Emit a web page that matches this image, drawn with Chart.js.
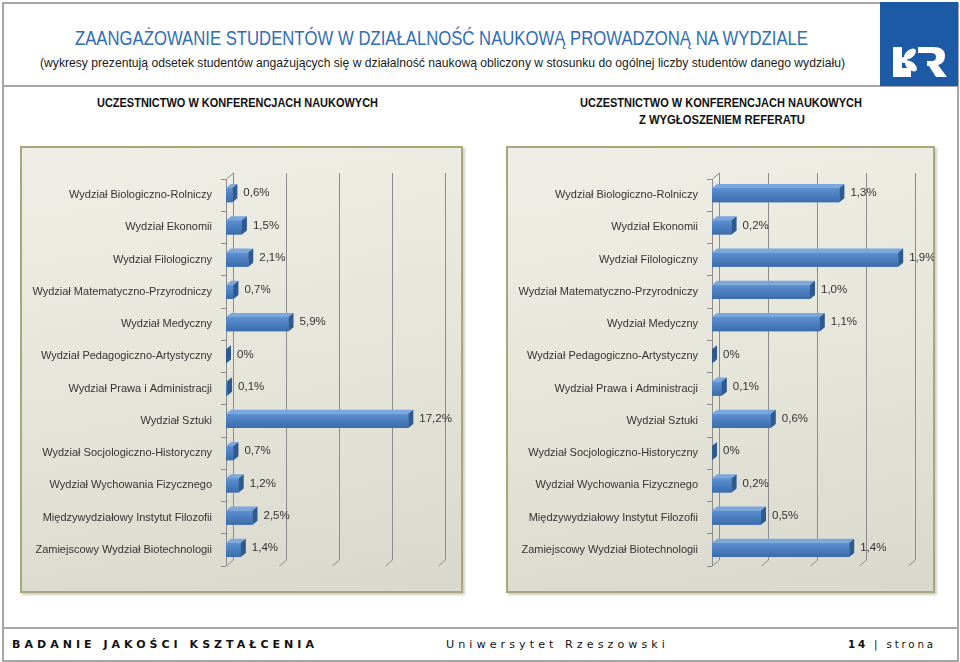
<!DOCTYPE html>
<html><head><meta charset="utf-8">
<script src="https://cdn.jsdelivr.net/npm/chart.js@4"></script>
<style>
html,body{margin:0;padding:0;}
body{width:960px;height:662px;position:relative;background:#fff;overflow:hidden;font-family:'Liberation Sans',Arial,sans-serif;}
.abs{position:absolute;}
.fit{position:absolute;white-space:nowrap;transform-origin:left center;display:inline-block;}
.panel{position:absolute;border:2px solid #a9a57c;box-sizing:border-box;
  background:linear-gradient(170deg,#f0efe7 0%,#e6e5da 50%,#d9d8cc 100%);
  box-shadow:2px 2px 2px rgba(120,120,100,0.35);}
.chartbox{position:absolute;}
</style></head><body>

<div class="abs" style="left:2px;top:2px;width:953px;height:656px;border:2px solid #a6a6a6;"></div>
<div class="abs" style="left:2px;top:85px;width:957px;height:2px;background:#a6a6a6;"></div>
<div class="abs" style="left:2px;top:627px;width:957px;height:2px;background:#a6a6a6;"></div>

<!-- logo -->
<svg class="abs" style="left:880px;top:2px" width="78" height="84" viewBox="0 0 78 84">
  <rect x="0" y="0" width="78" height="84" fill="#1d5aa6"/>
  <path d="M13 45 h9 v21 h9 v9 h-18 z" fill="#fff"/>
  <ellipse cx="30" cy="52" rx="7" ry="4" transform="rotate(-40 30 52)" fill="#fff"/>
  <ellipse cx="31" cy="64" rx="7" ry="4" transform="rotate(40 31 64)" fill="#fff"/>
  <ellipse cx="24" cy="58" rx="3" ry="3" fill="#fff"/>
  <path d="M38 45 h15 q12 0 12 9 q0 7 -7 9 l9 12 h-11 l-7 -11 h-2 v-5 h5 q4 0 4 -4 q0 -4 -5 -4 h-13 z" fill="#fff"/>
</svg>

<span class="fit" data-w="733" style="left:75px;top:27px;font-size:21px;line-height:22px;color:#2f6db5;">ZAANGAŻOWANIE STUDENTÓW W DZIAŁALNOŚĆ NAUKOWĄ PROWADZONĄ NA WYDZIALE</span>
<span class="fit" data-w="805" style="left:40px;top:55px;font-size:13.5px;line-height:16px;color:#1a1a1a;">(wykresy prezentują odsetek studentów angażujących się w działalność naukową obliczony w stosunku do ogólnej liczby studentów danego wydziału)</span>

<span class="fit" data-w="281" style="left:97px;top:96px;font-size:12px;line-height:14px;font-weight:bold;color:#111;">UCZESTNICTWO W KONFERENCJACH NAUKOWYCH</span>
<span class="fit" data-w="282" style="left:580px;top:96px;font-size:12px;line-height:14px;font-weight:bold;color:#111;">UCZESTNICTWO W KONFERENCJACH NAUKOWYCH</span>
<span class="fit" data-w="166" style="left:639px;top:113px;font-size:12px;line-height:14px;font-weight:bold;color:#111;">Z WYGŁOSZENIEM REFERATU</span>

<div class="panel" style="left:20px;top:146px;width:443px;height:447px;"></div>
<div class="panel" style="left:506px;top:146px;width:429px;height:447px;"></div>
<div class="chartbox" style="left:20px;top:146px;width:442px;height:446px;"><canvas id="c1"></canvas></div>
<div class="chartbox" style="left:506px;top:146px;width:428px;height:446px;"><canvas id="c2"></canvas></div>

<span class="fit" data-w="306" style="left:12px;top:638px;font-family:'DejaVu Sans',sans-serif;font-size:11px;line-height:14px;font-weight:bold;letter-spacing:4px;color:#111;">BADANIE JAKOŚCI KSZTAŁCENIA</span>
<span class="fit" data-w="223" style="left:446px;top:638px;font-family:'DejaVu Sans',sans-serif;font-size:11px;line-height:14px;letter-spacing:4px;color:#111;">Uniwersytet Rzeszowski</span>
<span class="fit" data-w="88" style="left:848px;top:638px;font-family:'DejaVu Sans',sans-serif;font-size:11px;line-height:14px;letter-spacing:3px;color:#111;"><b>14</b> | strona</span>

<script>
const categories = ['Wydział Biologiczno-Rolniczy','Wydział Ekonomii','Wydział Filologiczny','Wydział Matematyczno-Przyrodniczy','Wydział Medyczny','Wydział Pedagogiczno-Artystyczny','Wydział Prawa i Administracji','Wydział Sztuki','Wydział Socjologiczno-Historyczny','Wydział Wychowania Fizycznego','Międzywydziałowy Instytut Filozofii','Zamiejscowy Wydział Biotechnologii'];
const conferenceValues = [0.6,1.5,2.1,0.7,5.9,0,0.1,17.2,0.7,1.2,2.5,1.4];
const presentationValues = [1.3,0.2,1.9,1.0,1.1,0,0.1,0.6,0,0.2,0.5,1.4];
const leftAxisMax = 20, leftAxisStep = 5;
const rightAxisMax = 2, rightAxisStep = 0.5;

document.querySelectorAll('[data-w]').forEach(el=>{
  const w = el.getBoundingClientRect().width;
  el.style.transform = 'scaleX(' + (+el.dataset.w / w) + ')';
});

function fmt(v){ return v === 0 ? '0%' : v.toFixed(1).replace('.', ',') + '%'; }

const GD = 7, GDY = 6;   // wall depth
const BD = 5, BDY = 4;   // bar depth
const plugin3d = {
  id: 'plugin3d',
  beforeDatasetsDraw(chart){
    const {ctx, chartArea:a, scales:{x}} = chart;
    ctx.save();
    ctx.strokeStyle = '#8c8c8c'; ctx.lineWidth = 1;
    x.ticks.forEach(t=>{
      const px = Math.round(x.getPixelForValue(t.value)) + 0.5;
      ctx.beginPath();
      if (t.value === x.min){
        ctx.moveTo(px, a.bottom); ctx.lineTo(px, a.top); ctx.lineTo(px+GD, a.top-GDY);
        ctx.lineTo(px+GD, a.bottom-GDY); ctx.lineTo(px, a.bottom);
      } else {
        ctx.moveTo(px+GD, a.top-GDY); ctx.lineTo(px+GD, a.bottom-GDY); ctx.lineTo(px, a.bottom);
      }
      ctx.stroke();
    });
    ctx.restore();
  },
  afterDatasetsDraw(chart){
    const {ctx} = chart;
    const meta = chart.getDatasetMeta(0);
    const data = chart.data.datasets[0].data;
    ctx.save();
    meta.data.forEach((bar, i)=>{
      const {x, y, base, height} = bar.getProps(['x','y','base','height'], true);
      const t = y - height/2, b = y + height/2;
      if (x > base) {
        const g = ctx.createLinearGradient(0, t, 0, b);
        g.addColorStop(0, '#5d91d2'); g.addColorStop(0.5, '#4a7ebf'); g.addColorStop(1, '#3c6cab');
        ctx.fillStyle = g;
        ctx.fillRect(base, t, x - base, b - t);
      }
      ctx.fillStyle = '#7aa7dd';
      ctx.beginPath();
      ctx.moveTo(base, t); ctx.lineTo(base+BD, t-BDY); ctx.lineTo(x+BD, t-BDY); ctx.lineTo(x, t); ctx.closePath();
      ctx.fill();
      ctx.fillStyle = '#2e5a90';
      ctx.beginPath();
      ctx.moveTo(x, t); ctx.lineTo(x+BD, t-BDY); ctx.lineTo(x+BD, b-BDY); ctx.lineTo(x, b); ctx.closePath();
      ctx.fill();
      ctx.fillStyle = '#333333';
      ctx.font = "11.5px 'Liberation Sans', Arial, sans-serif";
      ctx.textAlign = 'left'; ctx.textBaseline = 'middle';
      ctx.fillText(fmt(data[i]), x + BD + 6, y - 2);
    });
    ctx.restore();
  }
};

function makeChart(id, values, max, step, padRight){
  const canvas = document.getElementById(id);
  return new Chart(canvas, {
    type: 'bar',
    data: { labels: categories, datasets: [{ data: values, backgroundColor: '#4a7ebf',
      borderWidth: 0, barPercentage: 0.44, categoryPercentage: 1 }] },
    options: {
      indexAxis: 'y', responsive: true, maintainAspectRatio: false, animation: false,
      layout: { padding: { top: 33, bottom: 26, left: 0, right: padRight } },
      plugins: { legend: { display: false }, tooltip: { enabled: false } },
      scales: {
        x: { display: false, min: 0, max: max, ticks: { stepSize: step } },
        y: {
          afterFit: (s)=>{ s.width = 206; },
          grid: { offset: true, drawOnChartArea: false, drawTicks: true, tickLength: 5, color: '#8c8c8c' },
          border: { display: false },
          ticks: { padding: 9, color: '#333333', font: { family: "'Liberation Sans', Arial, sans-serif", size: 11 } }
        }
      }
    },
    plugins: [plugin3d]
  });
}
makeChart('c1', conferenceValues, leftAxisMax, leftAxisStep, 24);
makeChart('c2', presentationValues, rightAxisMax, rightAxisStep, 26);
</script>
</body></html>
